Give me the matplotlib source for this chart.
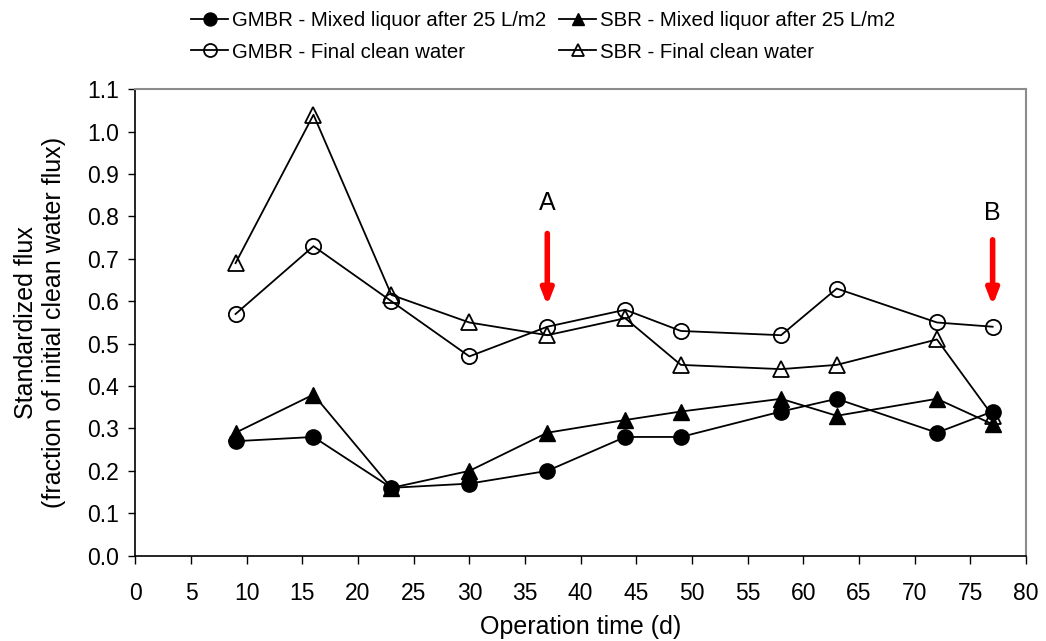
import matplotlib
matplotlib.use("Agg")
import matplotlib.pyplot as plt
from matplotlib.ticker import FormatStrFormatter

plt.rcParams['font.family'] = ['Liberation Sans', 'DejaVu Sans']

days = [9, 16, 23, 30, 37, 44, 49, 58, 63, 72, 77]
gmbr_mixed = [0.27, 0.28, 0.16, 0.17, 0.20, 0.28, 0.28, 0.34, 0.37, 0.29, 0.34]
sbr_mixed = [0.29, 0.38, 0.16, 0.20, 0.29, 0.32, 0.34, 0.37, 0.33, 0.37, 0.31]
gmbr_final = [0.57, 0.73, 0.60, 0.47, 0.54, 0.58, 0.53, 0.52, 0.63, 0.55, 0.54]
sbr_final = [0.69, 1.04, 0.615, 0.55, 0.52, 0.56, 0.45, 0.44, 0.45, 0.51, 0.33]

arrow_x = [37, 77]
arrow_top = [0.76, 0.745]
arrow_tip = [0.59, 0.59]
arrow_labels = ["A", "B"]
label_y = [0.832, 0.808]

fig = plt.figure(figsize=(10.46, 6.41), dpi=100)
ax = fig.add_axes([0.1294, 0.1331, 0.8515, 0.7276])

ms = 11
lw = 1.3
l1, = ax.plot(days, gmbr_mixed, color='black', lw=lw, marker='o', ms=ms,
              mfc='black', mec='black', label='GMBR - Mixed liquor after 25 L/m2', zorder=3)
l2, = ax.plot(days, sbr_mixed, color='black', lw=lw, marker='^', ms=ms,
              mfc='black', mec='black', label='SBR - Mixed liquor after 25 L/m2', zorder=3)
l3, = ax.plot(days, gmbr_final, color='black', lw=lw, marker='o', ms=ms,
              mfc='none', mec='black', mew=1.3, label='GMBR - Final clean water', zorder=3)
l4, = ax.plot(days, sbr_final, color='black', lw=lw, marker='^', ms=ms,
              mfc='none', mec='black', mew=1.3, label='SBR - Final clean water', zorder=3)

for x, yt, yp, lab, ly in zip(arrow_x, arrow_top, arrow_tip, arrow_labels, label_y):
    ax.annotate('', xy=(x, yp), xytext=(x, yt),
                arrowprops=dict(arrowstyle='-|>,head_width=0.35,head_length=0.9',
                                color='#ff0000', lw=4, shrinkA=0, shrinkB=0))
    ax.text(x, ly, lab, ha='center', va='center', fontsize=18)

ax.set_xlim(0, 80)
ax.set_ylim(0, 1.1)
ax.set_xticks(range(0, 81, 5))
ax.set_yticks([i / 10 for i in range(12)])
ax.yaxis.set_major_formatter(FormatStrFormatter('%.1f'))
ax.tick_params(axis='both', direction='out', length=5.4, width=1, labelsize=16.5, color='black')
ax.tick_params(axis='x', pad=13.5)
ax.tick_params(axis='y', pad=6.5)
for s in ['top', 'right']:
    ax.spines[s].set_color('#8c8c8c')
    ax.spines[s].set_linewidth(1.5)
for s in ['left', 'bottom']:
    ax.spines[s].set_color('black')
    ax.spines[s].set_linewidth(1.2)

ax.set_xlabel('Operation time (d)', fontsize=18, labelpad=7)
ax.set_ylabel('Standardized flux\n(fraction of initial clean water flux)', fontsize=18, labelpad=15,
              linespacing=1.2)

fig.legend(handles=[l1, l3, l2, l4], ncol=2, loc='upper left', bbox_to_anchor=(0.175, 0.995),
           frameon=False, fontsize=14.7, handlelength=1.8, handletextpad=0.2,
           columnspacing=0.65, labelspacing=0.6, borderaxespad=0, markerscale=0.85)

fig.savefig('out.png', dpi=100)
